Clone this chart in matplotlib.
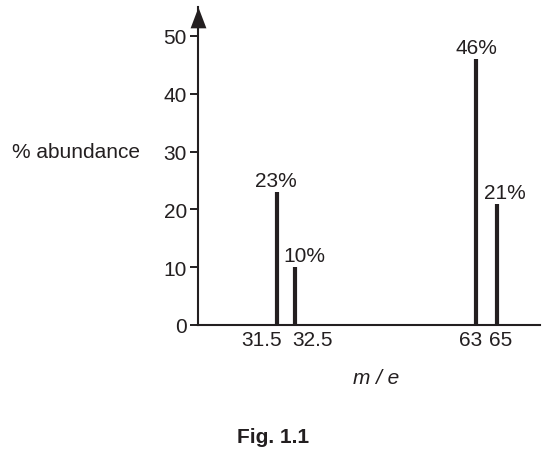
import matplotlib.pyplot as plt

# DATA
mass = ['31.5', '32.5', '63', '65']
abundance = [23, 10, 46, 21]
value_labels = ['23%', '10%', '46%', '21%']
y_ticks = [0, 10, 20, 30, 40, 50]

# LAYOUT (the m/e axis is not to scale in the figure)
slot = [0, 1, 11.06, 12.22]
tick_dx = [-15, 17, -5, 4]       # pixel nudges for m/e labels
value_dx = [-1, 9, 0, 8]         # pixel nudges for % labels

INK = '#231f20'
plt.rcParams['font.family'] = ['Liberation Sans', 'DejaVu Sans']
plt.rcParams['text.color'] = INK
FS = 15

fig = plt.figure(figsize=(5.43, 4.64), dpi=100)
ax = fig.add_axes([198 / 543, 138 / 464, 342 / 543, 318 / 464])

ax.vlines(slot, 0, abundance, colors=INK, linewidth=3)

for x, v, lab, dx in zip(slot, abundance, value_labels, value_dx):
    ax.annotate(lab, (x, v), xytext=(dx, 6), textcoords='offset pixels',
                ha='center', va='baseline', fontsize=FS, color=INK)

for x, lab, dx in zip(slot, mass, tick_dx):
    ax.annotate(lab, (x, 0), xytext=(dx, -15), textcoords='offset pixels',
                ha='center', va='center', fontsize=FS, color=INK,
                annotation_clip=False)

ax.set_xlim(-4.39, 14.61)
ax.set_ylim(0, 55)
ax.set_yticks(y_ticks)
ax.set_xticks([])
ax.tick_params(axis='y', length=6, width=1.4, pad=2, labelsize=FS,
               colors=INK, direction='out')

for side in ['top', 'right']:
    ax.spines[side].set_visible(False)
for side in ['left', 'bottom']:
    ax.spines[side].set_linewidth(1.5)
    ax.spines[side].set_color(INK)

# arrow head on top of the y axis, tip at the axes top
arrow = [(-0.38, -1), (0.38, -1), (0, 0), (-0.38, -1)]
ax.plot([0], [1], marker=arrow, markersize=30, color=INK, markeredgewidth=0,
        transform=ax.transAxes, clip_on=False)

fig.text(75.5 / 543, 1 - 152 / 464, '% abundance', ha='center', va='center',
         fontsize=FS, color=INK)
fig.text(376 / 543, 1 - 379 / 464, 'm / e', ha='center', va='center',
         fontsize=FS, color=INK, style='italic')
fig.text(273 / 543, 1 - 438 / 464, 'Fig. 1.1', ha='center', va='center',
         fontsize=FS, color=INK, weight='bold')

fig.savefig('out.png', dpi=100)
